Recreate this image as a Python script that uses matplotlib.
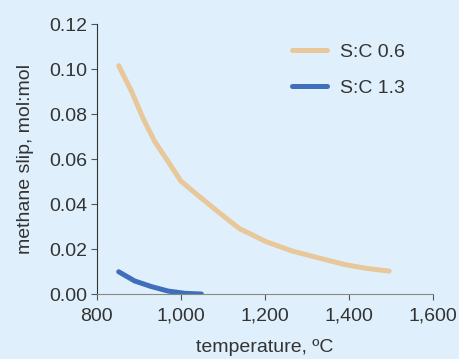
import matplotlib
matplotlib.use('Agg')
import matplotlib.pyplot as plt
from matplotlib.ticker import FuncFormatter

# values
temp_06 = [852, 883, 910, 938, 970, 1000, 1045, 1093, 1140, 1204, 1267, 1331, 1395, 1442, 1496]
slip_06 = [0.1015, 0.0899, 0.0781, 0.0677, 0.0588, 0.0502, 0.0432, 0.0359, 0.0290, 0.0232,
           0.0190, 0.0159, 0.0129, 0.0114, 0.0102]
temp_13 = [852, 890, 930, 970, 1010, 1049]
slip_13 = [0.0099, 0.0058, 0.0033, 0.0013, 0.0003, 0.0]

xticks = [800, 1000, 1200, 1400, 1600]
yticks = [0.00, 0.02, 0.04, 0.06, 0.08, 0.10, 0.12]

bg = '#dff0fc'
txt = '#333333'

plt.rcParams['font.family'] = ['Liberation Sans', 'DejaVu Sans']

fig = plt.figure(figsize=(4.59, 3.59), dpi=100, facecolor=bg)
ax = fig.add_axes([0.211, 0.181, 0.732, 0.752], facecolor=bg)

ax.plot(temp_06, slip_06, color='#e8c89a', lw=3.6, solid_capstyle='round',
        solid_joinstyle='round', label='S:C 0.6')
ax.plot(temp_13, slip_13, color='#3f6fba', lw=3.6, solid_capstyle='round',
        solid_joinstyle='round', label='S:C 1.3')

ax.set_xlim(800, 1600)
ax.set_ylim(0, 0.12)
ax.set_xticks(xticks)
ax.set_yticks(yticks)
ax.xaxis.set_major_formatter(FuncFormatter(lambda v, p: '{:,.0f}'.format(v)))
ax.yaxis.set_major_formatter(FuncFormatter(lambda v, p: '{:.2f}'.format(v)))

for s in ['top', 'right']:
    ax.spines[s].set_visible(False)
ax.spines['left'].set_color('#333333')
ax.spines['bottom'].set_color('#888888')
ax.tick_params(direction='out', length=4, colors='#555555', labelcolor=txt, labelsize=14, pad=3)
ax.tick_params(axis='x', pad=6)

ax.set_xlabel('temperature, ºC', color=txt, fontsize=14, labelpad=10)
ax.set_ylabel('methane slip, mol:mol', color=txt, fontsize=14, labelpad=11)

leg = ax.legend(loc='upper right', frameon=False, fontsize=14, handlelength=1.8,
                handletextpad=0.7, labelspacing=0.95, bbox_to_anchor=(0.97, 0.995))
for t in leg.get_texts():
    t.set_color(txt)

fig.savefig('out.png', dpi=100, facecolor=bg)
